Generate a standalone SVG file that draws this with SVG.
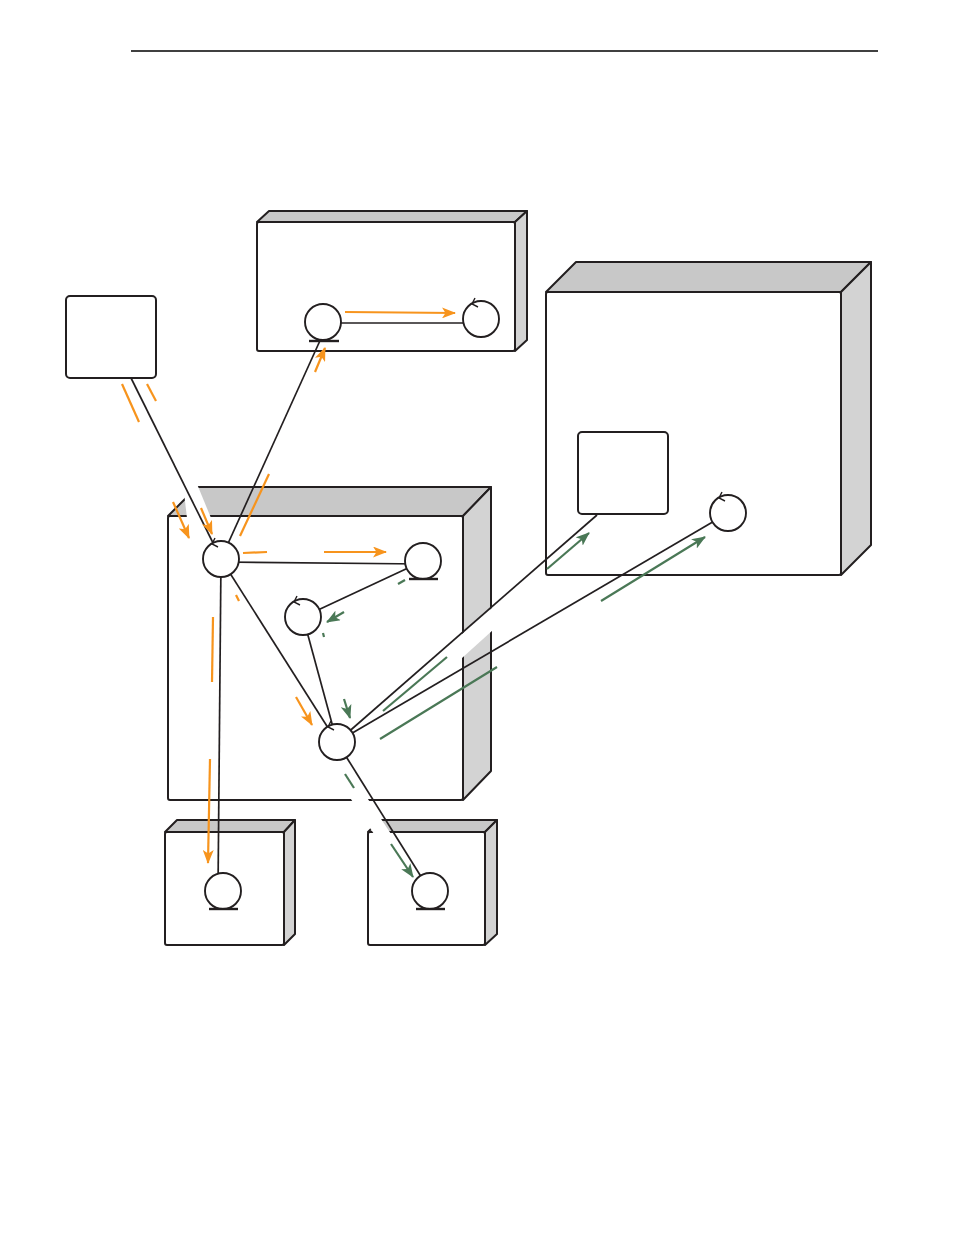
<svg xmlns="http://www.w3.org/2000/svg" width="954" height="1235" viewBox="0 0 954 1235">
<defs>
<style>
.front{fill:#fff;stroke:#231f20;stroke-width:2;stroke-linejoin:round}
.top{fill:#c8c8c8;stroke:#231f20;stroke-width:2;stroke-linejoin:round}
.side{fill:#d3d3d3;stroke:#231f20;stroke-width:2;stroke-linejoin:round}
.mask{fill:#fff;stroke:none}
.conn{stroke:#231f20;stroke-width:1.7;fill:none}
.node{fill:#fff;stroke:#231f20;stroke-width:1.9}
.ul{stroke:#231f20;stroke-width:2.4}
.chev{fill:none;stroke:#231f20;stroke-width:1.4}
.or{stroke:#f7941d;stroke-width:2.2;fill:none}
.gr{stroke:#4a7856;stroke-width:2.2;fill:none}
.orA{stroke:#f7941d;stroke-width:2.2;fill:none;marker-end:url(#ao)}
.grA{stroke:#4a7856;stroke-width:2.2;fill:none;marker-end:url(#ag)}
</style>
<marker id="ao" viewBox="0 0 14 11" refX="13" refY="5.5" markerWidth="14" markerHeight="11" markerUnits="userSpaceOnUse" orient="auto"><path d="M0,0 L14,5.5 L0,11 L3.5,5.5 z" fill="#f7941d"/></marker>
<marker id="ag" viewBox="0 0 14 11" refX="13" refY="5.5" markerWidth="14" markerHeight="11" markerUnits="userSpaceOnUse" orient="auto"><path d="M0,0 L14,5.5 L0,11 L3.5,5.5 z" fill="#4a7856"/></marker>
</defs>
<rect width="954" height="1235" fill="#fff"/>
<line x1="131" y1="51" x2="878" y2="51" stroke="#000" stroke-width="1.3"/>

<g id="boxA">
<rect class="front" x="257" y="222" width="258" height="129" rx="2"/>
<polygon class="top" points="257,222 269,211 527,211 515,222"/>
<polygon class="side" points="515,222 527,211 527,340 515,351"/>
</g>
<g id="boxB">
<rect class="front" x="168" y="516" width="295" height="284" rx="2"/>
<polygon class="top" points="168,516 197,487 491,487 463,516"/>
<polygon class="side" points="463,516 491,487 491,771 463,800"/>
</g>
<g id="boxC">
<rect class="front" x="546" y="292" width="295" height="283" rx="2"/>
<polygon class="top" points="546,292 576,262 871,262 841,292"/>
<polygon class="side" points="841,292 871,262 871,545 841,575"/>
</g>
<g id="boxD">
<rect class="front" x="165" y="832" width="119" height="113" rx="2"/>
<polygon class="top" points="165,832 177,820 295,820 284,832"/>
<polygon class="side" points="284,832 295,820 295,934 284,945"/>
</g>
<g id="boxE">
<rect class="front" x="368" y="832" width="117" height="113" rx="2"/>
<polygon class="top" points="368,832 380,820 497,820 485,832"/>
<polygon class="side" points="485,832 497,820 497,934 485,945"/>
</g>

<g id="masks">
<polygon class="mask" points="183,484 197,484 211,518 187,518"/>
<polygon class="mask" points="462,634 493,607 493,630 462,658"/>
<polygon class="mask" points="345,790 362,790 391,834 374,834"/>
</g>

<g id="actorBox">
<rect class="front" x="66" y="296" width="90" height="82" rx="4"/>
</g>
<g id="innerBoxC">
<rect class="front" x="578" y="432" width="90" height="82" rx="4"/>
</g>

<g id="connectors">
<line class="conn" x1="131" y1="378" x2="221" y2="559"/>
<line class="conn" x1="221" y1="559" x2="323" y2="334"/>
<line class="conn" x1="323" y1="323" x2="481" y2="323"/>
<line class="conn" x1="221" y1="562" x2="423" y2="564"/>
<line class="conn" x1="423" y1="561" x2="303" y2="617"/>
<line class="conn" x1="221" y1="559" x2="337" y2="742"/>
<line class="conn" x1="221" y1="559" x2="218" y2="891"/>
<line class="conn" x1="303" y1="617" x2="337" y2="742"/>
<line class="conn" x1="337" y1="742" x2="597" y2="515"/>
<line class="conn" x1="337" y1="742" x2="728" y2="513"/>
<line class="conn" x1="337" y1="742" x2="430" y2="891"/>
</g>

<g id="nodeA1"><circle class="node" cx="323" cy="322" r="18"/><line class="ul" x1="309" y1="341" x2="339" y2="341"/></g>
<g id="nodeA2"><circle class="node" cx="481" cy="319" r="18"/><path class="chev" d="M475,298 L472,304 L478,307"/></g>
<g id="nodeC1"><circle class="node" cx="221" cy="559" r="18"/><path class="chev" d="M215,538 L212,544 L218,547"/></g>
<g id="nodeC2"><circle class="node" cx="423" cy="561" r="18"/><line class="ul" x1="409" y1="579" x2="438" y2="579"/></g>
<g id="nodeC4"><circle class="node" cx="303" cy="617" r="18"/><path class="chev" d="M297,596 L294,602 L300,605"/></g>
<g id="nodeC3"><circle class="node" cx="337" cy="742" r="18"/><path class="chev" d="M331,721 L328,727 L334,730"/></g>
<g id="nodeC5"><circle class="node" cx="728" cy="513" r="18"/><path class="chev" d="M722,492 L719,498 L725,501"/></g>
<g id="nodeD"><circle class="node" cx="223" cy="891" r="18"/><line class="ul" x1="209" y1="909" x2="238" y2="909"/></g>
<g id="nodeE"><circle class="node" cx="430" cy="891" r="18"/><line class="ul" x1="416" y1="909" x2="445" y2="909"/></g>

<g id="flows">
<line class="or" x1="122" y1="384" x2="139" y2="422"/>
<line class="orA" x1="173" y1="502" x2="189" y2="538"/>
<line class="or" x1="147" y1="384" x2="156" y2="401"/>
<line class="orA" x1="201" y1="508" x2="212" y2="534"/>
<line class="or" x1="240" y1="536" x2="269" y2="474"/>
<line class="orA" x1="315" y1="372" x2="325" y2="348"/>
<line class="orA" x1="345" y1="312" x2="455" y2="313"/>
<line class="or" x1="243" y1="553" x2="267" y2="552"/>
<line class="orA" x1="324" y1="552" x2="386" y2="552"/>
<line class="or" x1="213" y1="617" x2="212" y2="682"/>
<line class="orA" x1="210" y1="759" x2="208" y2="863"/>
<line class="or" x1="236" y1="595" x2="239" y2="601"/>
<line class="orA" x1="296" y1="697" x2="312" y2="725"/>
<line class="gr" x1="398" y1="584" x2="405" y2="580"/>
<line class="grA" x1="344" y1="612" x2="327" y2="622"/>
<line class="gr" x1="323" y1="633" x2="324" y2="637"/>
<line class="grA" x1="344" y1="699" x2="350" y2="718"/>
<line class="gr" x1="345" y1="774" x2="354" y2="788"/>
<line class="grA" x1="391" y1="844" x2="413" y2="877"/>
<line class="gr" x1="383" y1="711" x2="447" y2="657"/>
<line class="grA" x1="547" y1="569" x2="589" y2="533"/>
<line class="gr" x1="380" y1="739" x2="497" y2="667"/>
<line class="grA" x1="601" y1="601" x2="705" y2="537"/>
</g>
</svg>
